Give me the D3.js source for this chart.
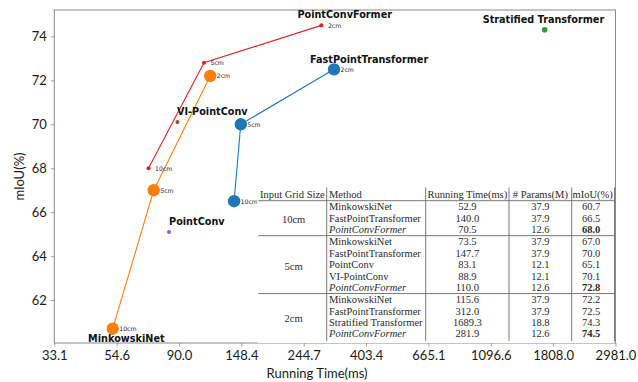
<!DOCTYPE html>
<html>
<head>
<meta charset="utf-8">
<script src="https://cdn.jsdelivr.net/npm/d3@7"></script>
<style>
  html, body { margin: 0; padding: 0; background: #fff; }
  svg { display: block; }
</style>
</head>
<body>
<svg id="chart" width="638" height="382"></svg>
<script>
// ---- data -------------------------------------------------------------
const gridSizes = ["10cm", "5cm", "2cm"];

const minkowskiTime = [52.9, 73.5, 115.6];
const minkowskiIoU  = [60.7, 67.0, 72.2];

const fptTime = [140.0, 147.7, 312.0];
const fptIoU  = [66.5, 70.0, 72.5];

const pcfTime = [70.5, 110.0, 281.9];
const pcfIoU  = [68.0, 72.8, 74.5];

const stratifiedTime = [1689.3];
const stratifiedIoU  = [74.3];

const pointConvTime = [83.1];
const pointConvIoU  = [65.1];

const viPointConvTime = [88.9];
const viPointConvIoU  = [70.1];

const xTickLabels = ["33.1", "54.6", "90.0", "148.4", "244.7", "403.4", "665.1", "1096.6", "1808.0", "2981.0"];
const yTickValues = [62, 64, 66, 68, 70, 72, 74];

// table contents
const tableHeader = ["Input Grid Size", "Method", "Running Time(ms)", "# Params(M)", "mIoU(%)"];
const tableGroup  = ["10cm", "10cm", "10cm", "5cm", "5cm", "5cm", "5cm", "5cm", "2cm", "2cm", "2cm", "2cm"];
const tableMethod = ["MinkowskiNet", "FastPointTransformer", "PointConvFormer",
                     "MinkowskiNet", "FastPointTransformer", "PointConv", "VI-PointConv", "PointConvFormer",
                     "MinkowskiNet", "FastPointTransformer", "Stratified Transformer", "PointConvFormer"];
const tableTime   = ["52.9", "140.0", "70.5", "73.5", "147.7", "83.1", "88.9", "110.0", "115.6", "312.0", "1689.3", "281.9"];
const tableParams = ["37.9", "37.9", "12.6", "37.9", "37.9", "12.1", "12.1", "12.6", "37.9", "37.9", "18.8", "12.6"];
const tableIoU    = ["60.7", "66.5", "68.0", "67.0", "70.0", "65.1", "70.1", "72.8", "72.2", "72.5", "74.3", "74.5"];
const oursMethod  = "PointConvFormer";

// ---- layout -----------------------------------------------------------
const svg = d3.select("#chart");
const plot = { left: 54.3, right: 615.5, top: 10, bottom: 343 };

const x = d3.scaleLog()
  .domain([Math.exp(3.5), Math.exp(8)])
  .range([plot.left, plot.right]);
const y = d3.scaleLinear()
  .domain([60.05, 75.2])
  .range([plot.bottom, plot.top]);

const spineColor = "#8a8a8a";
const tickFont = "Lato, 'Open Sans', sans-serif";

// ---- axes -------------------------------------------------------------
const xAxis = d3.axisBottom(x)
  .tickValues(xTickLabels.map(Number))
  .tickFormat((d, i) => xTickLabels[i])
  .tickSize(3.5).tickPadding(4);
const yAxis = d3.axisLeft(y)
  .tickValues(yTickValues)
  .tickFormat(d3.format("d"))
  .tickSize(3.5).tickPadding(4);

const gx = svg.append("g").attr("transform", `translate(0,${plot.bottom})`).call(xAxis);
const gy = svg.append("g").attr("transform", `translate(${plot.left},0)`).call(yAxis);
[gx, gy].forEach(g => {
  g.select(".domain").remove();
  g.selectAll(".tick line").attr("stroke", spineColor).attr("stroke-width", 0.8);
  g.selectAll(".tick text")
    .attr("fill", "#1a1a1a")
    .style("font-family", tickFont)
    .style("font-size", "13px");
});

// frame
svg.append("rect")
  .attr("x", plot.left).attr("y", plot.top)
  .attr("width", plot.right - plot.left).attr("height", plot.bottom - plot.top)
  .attr("fill", "none").attr("stroke", spineColor).attr("stroke-width", 1);

// axis titles
svg.append("text")
  .attr("transform", `translate(19,${(plot.top + plot.bottom) / 2}) rotate(-90)`)
  .attr("text-anchor", "middle").attr("dominant-baseline", "central")
  .style("font-family", tickFont).style("font-size", "13px").attr("fill", "#1a1a1a")
  .text("mIoU(%)");
svg.append("text")
  .attr("x", 317).attr("y", 378)
  .attr("text-anchor", "middle")
  .style("font-family", tickFont).style("font-size", "13px").attr("fill", "#1a1a1a")
  .text("Running Time(ms)");

// ---- series -----------------------------------------------------------
const series = [
  { name: "MinkowskiNet", time: minkowskiTime, iou: minkowskiIoU, color: "#ff7f0e", r: 6.2, sizes: gridSizes,
    label: { at: 0, dx: -24.6, dy: 13.4 } },
  { name: "FastPointTransformer", time: fptTime, iou: fptIoU, color: "#1f77b4", r: 6.2, sizes: gridSizes,
    label: { at: 2, dx: -24, dy: -6.6 } },
  { name: "PointConvFormer", time: pcfTime, iou: pcfIoU, color: "#d62728", r: 2.1, sizes: gridSizes,
    label: { at: 2, dx: -24, dy: -7 } },
  { name: "Stratified Transformer", time: stratifiedTime, iou: stratifiedIoU, color: "#2ca02c", r: 2.8, sizes: null,
    label: { at: 0, dx: -62, dy: -6.4 } },
  { name: "PointConv", time: pointConvTime, iou: pointConvIoU, color: "#9467bd", r: 2.1, sizes: null,
    label: { at: 0, dx: 0, dy: -7 } },
  { name: "VI-PointConv", time: viPointConvTime, iou: viPointConvIoU, color: "#8c564b", r: 2.1, sizes: null,
    label: { at: 0, dx: -0.5, dy: -6.6 } }
];

const line = d3.line().x(d => x(d[0])).y(d => y(d[1]));
const marks = svg.append("g");

series.forEach(s => {
  const pts = s.time.map((t, i) => [t, s.iou[i]]);
  if (pts.length > 1) {
    marks.append("path").datum(pts)
      .attr("d", line).attr("fill", "none")
      .attr("stroke", s.color).attr("stroke-width", 1.1);
  }
});

// grid-size tags beside each point
series.filter(s => s.sizes).forEach(s => {
  marks.selectAll(null).data(s.time.map((t, i) => ({ t, v: s.iou[i], tag: s.sizes[i] })))
    .join("text")
    .attr("x", d => x(d.t) + 6.5).attr("y", d => y(d.v))
    .attr("dominant-baseline", "central")
    .style("font-family", "'DejaVu Sans', sans-serif").style("font-size", "6.2px")
    .attr("fill", "#222")
    .text(d => d.tag);
});

series.forEach(s => {
  marks.selectAll(null).data(s.time.map((t, i) => [t, s.iou[i]]))
    .join("circle")
    .attr("cx", d => x(d[0])).attr("cy", d => y(d[1]))
    .attr("r", s.r).attr("fill", s.color);
});

// method names
series.forEach(s => {
  const i = s.label.at;
  marks.append("text")
    .attr("x", x(s.time[i]) + s.label.dx).attr("y", y(s.iou[i]) + s.label.dy)
    .style("font-family", "'DejaVu Sans', sans-serif").style("font-size", "9.7px")
    .style("font-weight", "bold").attr("fill", "#111")
    .text(s.name);
});

// ---- results table ----------------------------------------------------
const tbl = svg.append("g");
const colEdges = [257.5, 326.7, 425.7, 509, 571.7, 614.5];
const tableTop = 187.5, tableBottom = plot.bottom;
const headerY = 194.2;
const rowStep = 11.4, firstRowY = 206.7, groupGap = 0.9;
const groupsOrder = gridSizes;
const rowY = i => firstRowY + i * rowStep + groupsOrder.indexOf(tableGroup[i]) * groupGap;
const lineColor = "#6a6a6a";
const serif = "'Liberation Serif', 'DejaVu Serif', serif";

tbl.append("rect")
  .attr("x", colEdges[0]).attr("y", tableTop)
  .attr("width", colEdges[5] - colEdges[0]).attr("height", tableBottom - tableTop)
  .attr("fill", "#fff");

// horizontal rules: under header and between groups
const ruleYs = [200.7];
groupsOrder.slice(0, -1).forEach(g => {
  const last = tableGroup.lastIndexOf(g);
  ruleYs.push((rowY(last) + rowY(last + 1)) / 2);
});
tbl.selectAll(null).data(ruleYs).join("line")
  .attr("x1", colEdges[0] + 0.8).attr("x2", colEdges[5])
  .attr("y1", d => d).attr("y2", d => d)
  .attr("stroke", lineColor).attr("stroke-width", 0.9);

// vertical rules
tbl.selectAll(null).data(colEdges.slice(1)).join("line")
  .attr("x1", d => d).attr("x2", d => d)
  .attr("y1", tableTop).attr("y2", tableBottom - 2)
  .attr("stroke", lineColor).attr("stroke-width", 0.9);

const cellText = (g, xPos, yPos, txt, anchor) => g.append("text")
  .attr("x", xPos).attr("y", yPos)
  .attr("text-anchor", anchor).attr("dominant-baseline", "central")
  .style("font-family", serif).style("font-size", "10.5px")
  .attr("fill", "#2a2a2a").text(txt);

const mid = k => (colEdges[k] + colEdges[k + 1]) / 2;

// header
cellText(tbl, 260, headerY, tableHeader[0], "start");
cellText(tbl, 329, headerY, tableHeader[1], "start");
cellText(tbl, mid(2), headerY, tableHeader[2], "middle");
cellText(tbl, mid(3), headerY, tableHeader[3], "middle");
cellText(tbl, mid(4) - 0.5, headerY, tableHeader[4], "middle");

// group labels (spanning rows)
groupsOrder.forEach(g => {
  const first = tableGroup.indexOf(g), last = tableGroup.lastIndexOf(g);
  cellText(tbl, mid(0) + 1.5, (rowY(first) + rowY(last)) / 2 + 1.5, g, "middle");
});

// body rows
tableMethod.forEach((m, i) => {
  const yy = rowY(i);
  const ours = m === oursMethod;
  const mt = cellText(tbl, 329, yy, m, "start");
  if (ours) mt.style("font-style", "italic");
  cellText(tbl, mid(2), yy, tableTime[i], "middle");
  cellText(tbl, mid(3), yy, tableParams[i], "middle");
  const it = cellText(tbl, mid(4) - 2, yy, tableIoU[i], "middle");
  if (ours) it.style("font-weight", "bold");
});
</script>
</body>
</html>
